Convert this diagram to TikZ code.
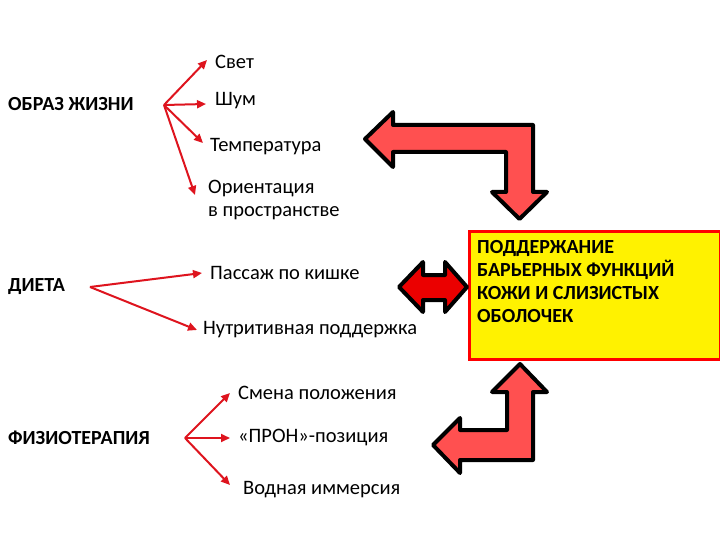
\documentclass[tikz,border=0pt]{standalone}
\usepackage{fontspec}
\setmainfont{Carlito}
\usetikzlibrary{arrows.meta}
\definecolor{lnred}{RGB}{222,20,30}
\definecolor{blkarrow}{RGB}{255,80,80}
\definecolor{dblred}{RGB}{235,0,0}
\tikzset{
  x=1pt, y=-1pt,
  lbl/.style={anchor=west, inner sep=0pt, font=\fontsize{20}{23}\selectfont\bfseries},
  item/.style={anchor=west, inner sep=0pt, font=\fontsize{20.5}{23}\selectfont, align=left},
  conn/.style={draw=lnred, line width=2pt, -{Triangle[length=9pt,width=8pt]}},
  bigarrow/.style={draw=black, line width=4pt, line join=round, fill=blkarrow},
}
\begin{document}
\begin{tikzpicture}
\useasboundingbox (0,0) rectangle (720,540);
% left labels
\node[lbl] (obraz) at (8,104) {ОБРАЗ ЖИЗНИ};
\node[lbl] (dieta) at (8,287) {ДИЕТА};
\node[lbl] (fizio) at (8,438) {ФИЗИОТЕРАПИЯ};
% items
\node[item] (svet) at (215,62) {Свет};
\node[item] (shum) at (215,101) {Шум};
\node[item] (temp) at (210,147) {Температура};
\node[item, anchor=north west] (orient) at (208,180) {Ориентация\\в пространстве};
\node[item] (passazh) at (210,273) {Пассаж по кишке};
\node[item] (nutr) at (203,330) {Нутритивная поддержка};
\node[item] (smena) at (238,393) {Смена положения};
\node[item] (pron) at (238,438) {«ПРОН»-позиция};
\node[item] (vodn) at (243,490) {Водная иммерсия};
% forks and tips
\coordinate (f1) at (164,105);
\coordinate (t11) at (207,60);
\coordinate (t12) at (206,104);
\coordinate (t13) at (203,143);
\coordinate (t14) at (195,195);
\coordinate (f2) at (90,287);
\coordinate (t21) at (202,273);
\coordinate (t22) at (197,330);
\coordinate (f3) at (185,438);
\coordinate (t31) at (230,393);
\coordinate (t32) at (230,438);
\coordinate (t33) at (230,485);
\foreach \t in {t11,t12,t13,t14} \draw[conn] (f1) -- (\t);
\foreach \t in {t21,t22} \draw[conn] (f2) -- (\t);
\foreach \t in {t31,t32,t33} \draw[conn] (f3) -- (\t);
% main box
\node[draw=red, line width=3pt, fill=yellow, anchor=north west, minimum width=251pt, minimum height=128pt, inner sep=0pt] (box) at (468,230) {};
\node[anchor=north west, inner sep=0pt, align=left, font=\fontsize{20}{23}\selectfont\bfseries] (boxtext) at (477,240) {ПОДДЕРЖАНИЕ\\БАРЬЕРНЫХ ФУНКЦИЙ\\КОЖИ И СЛИЗИСТЫХ\\ОБОЛОЧЕК};
% top bent arrow
\draw[bigarrow] (365,139) -- (393,112) -- (393,125) -- (533,125) -- (533,192) -- (547,192) -- (519.5,219) -- (492,192) -- (506,192) -- (506,152) -- (393,152) -- (393,167) -- cycle;
% bottom bent arrow
\draw[bigarrow] (520,364) -- (547,392) -- (533,392) -- (533,460) -- (460,460) -- (460,473) -- (433,445) -- (460,418) -- (460,430) -- (507,430) -- (507,392) -- (492,392) -- cycle;
% double arrow
\draw[bigarrow, fill=dblred] (399,287) -- (423,262) -- (423,275) -- (445,275) -- (445,262) -- (467,287) -- (445,312) -- (445,300) -- (423,300) -- (423,312) -- cycle;
\end{tikzpicture}
\end{document}
